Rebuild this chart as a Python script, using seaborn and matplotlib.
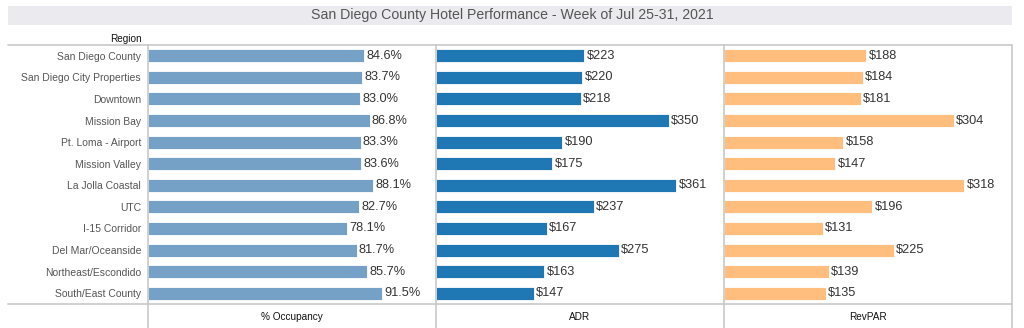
import matplotlib
matplotlib.use("Agg")
import matplotlib.pyplot as plt
import seaborn as sns
import pandas as pd
from matplotlib.lines import Line2D
from matplotlib.patches import Rectangle

regions = ["San Diego County", "San Diego City Properties", "Downtown", "Mission Bay",
           "Pt. Loma - Airport", "Mission Valley", "La Jolla Coastal", "UTC",
           "I-15 Corridor", "Del Mar/Oceanside", "Northeast/Escondido", "South/East County"]
occupancy = [84.6, 83.7, 83.0, 86.8, 83.3, 83.6, 88.1, 82.7, 78.1, 81.7, 85.7, 91.5]
adr = [223, 220, 218, 350, 190, 175, 361, 237, 167, 275, 163, 147]
revpar = [188, 184, 181, 304, 158, 147, 318, 196, 131, 225, 139, 135]
measures = ["% Occupancy", "ADR", "RevPAR"]
title = "San Diego County Hotel Performance - Week of Jul 25-31, 2021"

sns.set_theme(style="white")
plt.rcParams['font.family'] = ['Liberation Sans', 'DejaVu Sans']

W, H = 1024, 328
fig = plt.figure(figsize=(W / 100, H / 100), dpi=100)

def fx(px):
    return px / W

def fy(py):
    return 1 - py / H

# Title band
fig.add_artist(Rectangle((fx(8), fy(25)), fx(1004), 19 / H, transform=fig.transFigure,
                         facecolor="#ebebef", edgecolor="none"))
fig.text(fx(512), fy(15.5), title, ha="center", va="center", fontsize=10.2, color="#555555")

df = pd.DataFrame({"Region": regions, "occ": occupancy, "adr": adr, "revpar": revpar})
cols = ["occ", "adr", "revpar"]
colors = ["#75a1c7", "#1f77b4", "#ffbe7d"]
xmax = [112.8, 433.0, 381.0]
fmts = [lambda v: f"{v:.1f}%", lambda v: f"${v:.0f}", lambda v: f"${v:.0f}"]

top_px, bot_px = 45, 304
lefts = [148, 436, 724]
axes = []
for i, (c, col, xm, fm) in enumerate(zip(cols, colors, xmax, fmts)):
    ax = fig.add_axes([fx(lefts[i]), fy(bot_px), fx(288), (bot_px - top_px) / H])
    sns.barplot(data=df, x=c, y="Region", orient="h", color=col, width=0.6,
                edgecolor="white", linewidth=0.6, ax=ax, saturation=1)
    ax.set_xlim(0, xm)
    ax.set_ylim(11.5, -0.5)
    ax.set_xlabel("")
    ax.set_ylabel("")
    ax.set_xticks([])
    for s in ax.spines.values():
        s.set_visible(False)
    if i > 0:
        ax.set_yticks([])
    else:
        ax.tick_params(axis="y", length=0, pad=5, labelsize=7.5, labelcolor="#555555")
    for j, v in enumerate(df[c]):
        ax.text(v + xm * 0.008, j - 0.07, fm(v), va="center_baseline", ha="left", fontsize=9.2, color="#333333")
    ax.patch.set_alpha(0)
    axes.append(ax)
    fig.text(fx(lefts[i] + 144), fy(316.5), measures[i], ha="center", va="center",
             fontsize=7.2, color="#111111")

fig.text(fx(142), fy(39), "Region", ha="right", va="center", fontsize=7.2, color="#111111")

lc = "#c8c8c8"
fig.add_artist(Line2D([fx(8), fx(1012)], [fy(45), fy(45)], color=lc, lw=1.2, transform=fig.transFigure))
fig.add_artist(Line2D([fx(8), fx(1012)], [fy(304), fy(304)], color=lc, lw=1.2, transform=fig.transFigure))
for xp in [148, 436, 724, 1012]:
    fig.add_artist(Line2D([fx(xp), fx(xp)], [fy(45), fy(328)], color=lc, lw=1.2, transform=fig.transFigure))

fig.savefig("out.png", dpi=100)
